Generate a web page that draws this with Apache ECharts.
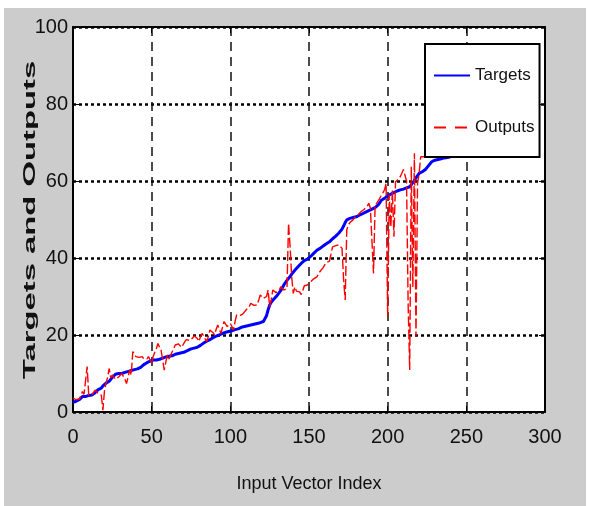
<!DOCTYPE html>
<html><head><meta charset="utf-8">
<script src="https://cdn.jsdelivr.net/npm/echarts@6/dist/echarts.min.js"></script>
<style>html,body{margin:0;padding:0;background:#fff}#c{width:590px;height:506px}</style>
</head><body><div id="c"></div>
<script>
const xTicks = [0, 50, 100, 150, 200, 250, 300];
const yTicks = [0, 20, 40, 60, 80, 100];
const seriesNames = ['Targets', 'Outputs'];
const xTitle = 'Input Vector Index';
const yTitle = 'Targets and Outputs';

const targets = [
2.5,2.6,2.8,3.0,3.2,3.5,4.0,4.0,4.0,4.2,
4.3,4.4,4.4,4.5,5.0,5.5,5.8,6.0,6.2,6.8,
7.2,7.5,7.8,8.0,8.5,9.0,9.5,9.8,10.0,10.0,
10.0,10.0,10.2,10.3,10.3,10.5,10.6,10.8,11.0,11.0,
11.1,11.2,11.3,11.6,12.0,12.3,12.6,12.8,13.0,13.2,
13.4,13.5,13.5,13.5,13.6,13.7,13.8,14.0,14.2,14.3,
14.4,14.5,14.5,14.6,14.8,15.0,15.1,15.2,15.3,15.4,
15.5,15.6,15.8,16.0,16.2,16.4,16.5,16.6,16.7,16.8,
17.0,17.3,17.6,17.9,18.2,18.4,18.6,18.8,19.0,19.3,
19.5,19.7,19.9,20.0,20.2,20.4,20.5,20.7,20.8,20.9,
21.0,21.1,21.2,21.4,21.5,21.6,21.8,22.0,22.1,22.2,
22.3,22.4,22.5,22.6,22.7,22.8,22.9,23.0,23.1,23.2,
23.3,23.5,24.0,25.0,26.5,27.8,28.5,29.0,29.5,30.0,
30.4,30.8,31.5,32.2,33.0,33.6,34.2,34.7,35.2,35.8,
36.3,36.8,37.2,37.7,38.2,38.6,39.0,39.3,39.5,39.7,
40.0,40.4,40.8,41.2,41.6,42.0,42.3,42.5,42.8,43.1,
43.4,43.7,44.0,44.2,44.6,45.0,45.3,45.7,46.1,46.5,
46.8,47.5,48.3,49.2,49.9,50.2,50.3,50.4,50.5,50.6,
50.7,50.9,51.1,51.3,51.5,51.7,51.9,52.1,52.3,52.5,
52.7,52.9,53.1,53.3,53.8,54.4,55.0,55.3,55.5,55.8,
56.2,56.4,56.6,56.8,57.0,57.2,57.4,57.6,57.7,57.8,
57.9,58.0,58.2,58.4,58.5,59.0,59.6,60.2,60.8,61.4,
62.0,62.2,62.4,62.6,63.0,63.5,64.0,64.5,65.0,65.2,
65.4,65.5,65.6,65.7,65.8,65.9,66.0,66.0,66.1,66.2,66.3
];

const outputs = [
3.6,3.4,3.2,3.1,3.3,3.1,5.3,4.6,4.4,11.8,
4.4,4.5,4.4,4.6,5.7,5.2,4.8,4.5,4.4,0.5,
5.5,7.5,9.0,11.3,8.9,9.6,9.2,8.5,8.2,9.1,
9.6,10.0,10.0,8.5,7.4,9.0,10.9,9.6,15.7,15.0,
14.4,14.4,14.2,14.5,14.4,13.8,13.5,13.8,14.4,13.9,
12.6,14.5,15.5,16.5,17.8,16.8,16.0,13.5,10.9,13.0,
14.8,13.8,13.5,15.6,15.7,17.4,17.0,17.7,17.3,16.8,
17.0,18.2,18.8,19.1,18.6,18.3,19.2,19.8,20.0,19.1,
18.3,19.5,20.4,19.8,19.0,18.3,19.6,21.3,21.3,20.6,
20.0,21.5,22.6,21.5,20.4,22.0,23.5,22.8,22.2,22.6,
23.0,22.2,21.3,23.5,25.2,25.3,25.0,25.4,25.5,25.9,
26.5,26.8,27.4,28.2,28.0,27.7,27.6,27.8,29.0,30.4,
29.9,29.5,29.7,30.0,31.7,27.4,29.1,31.7,31.4,31.0,
30.8,31.5,32.5,32.0,31.7,31.7,32.0,49.0,42.9,35.1,
30.8,32.5,31.4,31.8,31.2,30.5,31.5,32.8,32.5,33.0,
33.5,33.8,34.2,34.6,34.8,35.1,35.8,36.5,36.9,37.5,
38.2,38.8,39.0,39.2,39.4,42.9,43.0,43.2,43.4,43.4,
43.7,42.5,34.3,29.1,47.3,48.6,49.2,49.6,49.9,50.5,
51.0,51.2,51.6,52.0,52.3,52.6,53.0,53.5,54.2,53.0,
53.3,36.0,53.6,54.2,54.6,55.5,56.4,57.0,57.7,59.4,
24.8,56.5,48.1,57.5,45.5,59.8,59.8,60.5,61.1,62.0,
63.0,63.3,60.0,28.2,10.9,63.7,32.5,67.2,19.6,59.4,
62.0,66.3,66.5,66.3,66.6,66.5,66.8,66.6,66.7,66.9,
66.8,67.0,67.1,66.9,67.0,67.2,67.1,67.3,67.2,67.4,67.5
];

const FONT = "'Liberation Sans', Arial, sans-serif";

const chart = echarts.init(document.getElementById('c'));
const xMin = xTicks[0], xMax = xTicks[xTicks.length - 1], xInt = xTicks[1] - xTicks[0];
const yMin = yTicks[0], yMax = yTicks[yTicks.length - 1], yInt = yTicks[1] - yTicks[0];

const axisLineStyle = { show: true, onZero: false, lineStyle: { color: '#000', width: 2 } };
const tickStyle = { show: true, inside: true, length: 6, lineStyle: { color: '#000', width: 1 } };

chart.setOption({
  animation: false,
  backgroundColor: '#cccccc',
  grid: { left: 73, top: 27, right: 45, bottom: 94, show: true, backgroundColor: '#ffffff', borderWidth: 0 },
  legend: {
    left: 425, top: 44, orient: 'vertical',
    padding: [23, 5, 21, 8], itemGap: 35, itemWidth: 36, itemHeight: 14,
    backgroundColor: '#ffffff', borderColor: '#000', borderWidth: 2,
    itemStyle: { opacity: 0, color: 'rgba(0,0,0,0)', borderWidth: 0 },
    textStyle: { fontFamily: FONT, fontSize: 17, color: '#111' },
    data: [
      { name: seriesNames[0] },
      { name: seriesNames[1], lineStyle: { type: [12, 9] } }
    ]
  },
  xAxis: [{
    type: 'value', min: xMin, max: xMax, interval: xInt, position: 'bottom',
    name: xTitle, nameLocation: 'middle', nameGap: 63,
    nameTextStyle: { fontFamily: FONT, fontSize: 18, color: '#111' },
    axisLine: axisLineStyle, axisTick: tickStyle,
    axisLabel: { margin: 15, fontFamily: FONT, fontSize: 20, color: '#111' },
    splitLine: { show: true, lineStyle: { color: '#111', type: [9, 6], width: 1.5 } }
  }, {
    type: 'value', min: xMin, max: xMax, interval: xInt, position: 'top',
    axisLine: axisLineStyle, axisTick: tickStyle,
    axisLabel: { show: false }, splitLine: { show: false }
  }],
  yAxis: [{
    type: 'value', min: yMin, max: yMax, interval: yInt, position: 'left',
    axisLine: axisLineStyle, axisTick: tickStyle,
    axisLabel: { margin: 5, fontFamily: FONT, fontSize: 20, color: '#111' },
    splitLine: { show: true, lineStyle: { color: '#000', type: [3, 3], width: 2.5 } }
  }, {
    type: 'value', min: yMin, max: yMax, interval: yInt, position: 'right',
    axisLine: axisLineStyle, axisTick: tickStyle,
    axisLabel: { show: false }, splitLine: { show: false }
  }],
  graphic: [
    { type: 'rect', shape: { x: 0, y: 0, width: 590, height: 8 }, style: { fill: '#fff' }, silent: true },
    { type: 'rect', shape: { x: 0, y: 0, width: 4, height: 506 }, style: { fill: '#fff' }, silent: true },
    { type: 'rect', shape: { x: 586, y: 0, width: 4, height: 506 }, style: { fill: '#fff' }, silent: true },
    {
      type: 'text', x: 31, y: 220, rotation: Math.PI / 2, scaleX: 2.05, scaleY: 1,
      style: {
        text: yTitle, fontFamily: FONT,
        fontSize: 16, fontWeight: 'bold', fill: '#111',
        align: 'center', verticalAlign: 'middle'
      }
    }
  ],
  series: [
    {
      name: seriesNames[0], type: 'line', symbol: 'none', xAxisIndex: 0, yAxisIndex: 0,
      data: targets.map((v, i) => [i, v]),
      lineStyle: { color: '#0000ff', width: 3 }, itemStyle: { color: '#0000ff' }
    },
    {
      name: seriesNames[1], type: 'line', symbol: 'none', xAxisIndex: 0, yAxisIndex: 0,
      data: outputs.map((v, i) => [i, v]),
      lineStyle: { color: '#ff0000', width: 1.4, type: [10, 3] }, itemStyle: { color: '#ff0000' }
    }
  ]
});
</script>
</body></html>
